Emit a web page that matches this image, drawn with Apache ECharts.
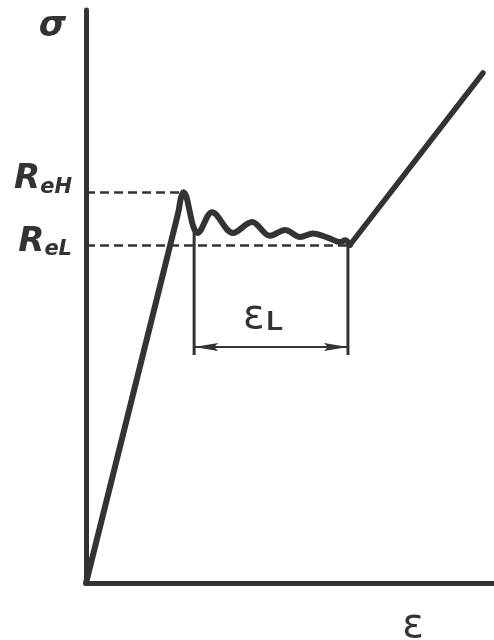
<!DOCTYPE html>
<html><head><meta charset="utf-8">
<script src="https://cdn.jsdelivr.net/npm/echarts@6/dist/echarts.min.js"></script>
<style>html,body{margin:0;padding:0;background:#fff}#c{width:494px;height:640px}</style>
</head><body><div id="c"></div>
<script>
// Schematic stress–strain curve of a steel with distinct upper and lower yield points
// elastic rise, upper yield point and the damped oscillation along the Lüders plateau
const yieldCurve = [[0, 0], [11.0, 31.4], [21.8, 62.3], [22.7, 65.0], [23.3, 67.3], [23.9, 68.2],
  [24.6, 67.4], [25.4, 64.9], [26.3, 62.2], [27.3, 61.1], [30.9, 64.7], [36.0, 61.1],
  [40.7, 63.0], [45.1, 60.6], [48.8, 61.6], [52.5, 60.4], [55.6, 61.0], [59.5, 60.2],
  [62.3, 59.5], [63.5, 59.8], [64.7, 59.0]];
// strain hardening
const hardeningPart = [[64.7, 59.0], [97.3, 89.0]];

const upperYield = 68.2;   // R_eH
const lowerYield = 59.0;   // R_eL
const peakStrain = 23.9;
const plateauStart = 26.5; // start of Lüders strain
const plateauEnd = 64.2;   // end of Lüders strain
const bracketTopLeft = 61.8;
const bracketBottom = 39.8;
const arrowLevel = 41.2;

const ink = '#333';
const chart = echarts.init(document.getElementById('c'));

const dashed = { color: ink, width: 2.5, type: [9, 5] };
const symbolFont = 'DejaVu Sans';
const labelRich = {
  r: { fontFamily: symbolFont, fontWeight: 'bold', fontStyle: 'italic', fontSize: 34, color: ink },
  s: { fontFamily: symbolFont, fontWeight: 'bold', fontStyle: 'italic', fontSize: 21, color: ink, padding: [16, 0, 0, 0] }
};
// slim arrowhead with its tip in the centre of the symbol box
const arrowHead = 'path://M0,24 L4,48 L0,44 L-4,48 Z M-24,0 L-24,0 M24,48 L24,48';

chart.setOption({
  animation: false,
  grid: { left: 86, right: 0, top: 10, bottom: 57, outerBoundsMode: 'none' },
  xAxis: {
    type: 'value', min: 0, max: 100,
    axisLine: { show: true, lineStyle: { color: ink, width: 5 } },
    axisTick: { show: false }, axisLabel: { show: false }, splitLine: { show: false },
    name: 'ε', nameLocation: 'end', nameGap: -81,
    nameTextStyle: { fontFamily: 'DejaVu Sans', fontSize: 40, color: ink, align: 'center', verticalAlign: 'top', padding: [24, 0, 0, 0] }
  },
  yAxis: {
    type: 'value', min: 0, max: 100,
    axisLine: { show: true, lineStyle: { color: ink, width: 5 } },
    axisTick: { show: false }, axisLabel: { show: false }, splitLine: { show: false },
    name: 'σ', nameLocation: 'end', nameGap: -17,
    nameTextStyle: { fontFamily: symbolFont, fontWeight: 'bold', fontStyle: 'italic', fontSize: 35, color: ink, align: 'right', verticalAlign: 'middle', padding: [0, 20, 0, 0] }
  },
  series: [
    { type: 'line', data: yieldCurve, showSymbol: false, smooth: 0.35, lineStyle: { color: ink, width: 6, join: 'round', cap: 'round' } },
    { type: 'line', data: hardeningPart, showSymbol: false, lineStyle: { color: ink, width: 5.5, cap: 'round', join: 'round' } },
    {
      type: 'line', data: [], silent: true,
      markLine: {
        symbol: 'none', silent: true, animation: false,
        lineStyle: dashed,
        label: { show: true, position: 'start', distance: 14, rich: labelRich },
        data: [
          [{ coord: [0, upperYield], label: { formatter: '{r|R}{s|eH}', padding: [0, 0, 26, 0] } }, { coord: [peakStrain, upperYield] }],
          [{ coord: [0, lowerYield], label: { formatter: '{r|R}{s|eL}', padding: [0, 0, 6, 0] } }, { coord: [plateauEnd, lowerYield] }]
        ]
      }
    },
    { type: 'line', data: [[plateauStart, bracketTopLeft], [plateauStart, bracketBottom]], showSymbol: false, lineStyle: { color: ink, width: 3 } },
    { type: 'line', data: [[plateauEnd, lowerYield], [plateauEnd, bracketBottom]], showSymbol: false, lineStyle: { color: ink, width: 3 } },
    {
      type: 'lines', coordinateSystem: 'cartesian2d', polyline: false,
      symbol: [arrowHead, arrowHead], symbolSize: 48,
      lineStyle: { color: ink, width: 2, opacity: 1 },
      label: {
        show: true, position: 'middle', distance: 9,
        formatter: '{e|ε}{l|L}',
        padding: [0, 16, 0, 0],
        rich: {
          e: { fontFamily: 'DejaVu Sans', fontSize: 40, color: ink },
          l: { fontFamily: 'Liberation Sans', fontWeight: 'bold', fontSize: 27, color: ink, padding: [10, 0, 0, 2] }
        }
      },
      data: [{ coords: [[plateauStart, arrowLevel], [plateauEnd, arrowLevel]] }]
    }
  ]
});
</script></body></html>
